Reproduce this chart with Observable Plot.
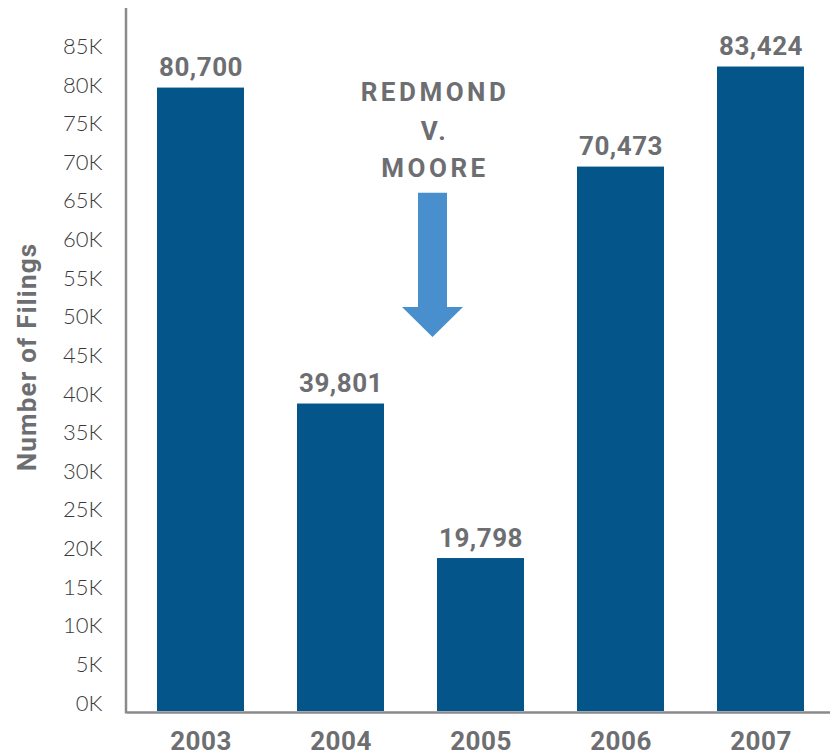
<!DOCTYPE html>
<html>
<head>
<meta charset="utf-8">
<script src="https://cdn.jsdelivr.net/npm/d3@7"></script>
<script src="https://cdn.jsdelivr.net/npm/@observablehq/plot@0.6"></script>
<style>
  html, body { margin: 0; padding: 0; background: #fff; }
</style>
</head>
<body>
<div id="chart"></div>
<script>
// ---- data ----
const years = ["2003", "2004", "2005", "2006", "2007"];
const filings = [80700, 39801, 19798, 70473, 83424];
const yTickValues = [0, 5000, 10000, 15000, 20000, 25000, 30000, 35000, 40000, 45000, 50000, 55000, 60000, 65000, 70000, 75000, 80000, 85000];
const yTickLabels = ["0K", "5K", "10K", "15K", "20K", "25K", "30K", "35K", "40K", "45K", "50K", "55K", "60K", "65K", "70K", "75K", "80K", "85K"];
const yAxisTitle = "Number of Filings";
const annotationLines = ["REDMOND", "V.", "MOORE"];
const annotationY = [78900, 73900, 69100];
const arrowShaftTop = 67100;
const arrowHeadBase = 52300;
const arrowTip = 48400;
const annotationYear = "2005";

const data = years.map((year, i) => ({year, filings: filings[i]}));
const annotation = annotationLines.map((line, i) => ({line, y: annotationY[i]}));
const tickLabel = new Map(yTickValues.map((v, i) => [v, yTickLabels[i]]));
const valueLabels = filings.map(d => d3.format(",")(d));

const gray = "#6d6e71";
const barColor = "#03558a";
const arrowColor = "#4a8fcd";
const axisColor = "#8a8a8c";
const boldFont = "Roboto, 'Noto Sans', sans-serif";

function bandCenter(x, v) {
  const bw = typeof x.bandwidth === "function" ? x.bandwidth() : (x.bandwidth || 0);
  return x(v) + bw / 2;
}

// vertical axis line
function axisLine(index, scales, values, dimensions) {
  const g = d3.create("svg:g");
  const x = dimensions.marginLeft - 1;
  g.append("line")
    .attr("x1", x).attr("x2", x)
    .attr("y1", dimensions.marginTop)
    .attr("y2", dimensions.height - dimensions.marginBottom + 2.5)
    .attr("stroke", axisColor)
    .attr("stroke-width", 2.5);
  return g.node();
}

// annotation arrow
function arrowMark(index, scales, values, dimensions) {
  const cx = bandCenter(scales.x, annotationYear) - 48;
  const yTop = scales.y(arrowShaftTop);
  const yBase = scales.y(arrowHeadBase);
  const yTip = scales.y(arrowTip);
  const sw = 14.5, hw = 30.5;
  const g = d3.create("svg:g");
  g.append("path")
    .attr("d", `M${cx - sw},${yTop}L${cx + sw},${yTop}L${cx + sw},${yBase}L${cx + hw},${yBase}L${cx},${yTip}L${cx - hw},${yBase}L${cx - sw},${yBase}Z`)
    .attr("fill", arrowColor);
  return g.node();
}

const chart = Plot.plot({
  width: 830,
  height: 756,
  marginLeft: 127,
  marginRight: 0,
  marginTop: 8,
  marginBottom: 45,
  style: {fontFamily: boldFont, background: "#fff"},
  x: {domain: years, range: [129, 832], paddingInner: 0.379, paddingOuter: 0.2, label: null},
  y: {domain: [0, 91000], label: null},
  marks: [
    Plot.barY(data, {x: "year", y: "filings", fill: barColor}),
    Plot.ruleY([0], {stroke: axisColor, strokeWidth: 2.5, dy: 1}),
    axisLine,
    Plot.axisY({
      ticks: yTickValues,
      tickFormat: d => tickLabel.get(d),
      tickSize: 0,
      tickPadding: 25,
      fontSize: 22,
      fontFamily: "Lato, Roboto, sans-serif",
      fontWeight: 300,
      color: "#3a3a3a",
      dy: -8,
      label: null
    }),
    Plot.axisX({
      tickSize: 0,
      tickPadding: 20,
      fontSize: 26,
      fontWeight: "bold",
      fontFamily: boldFont,
      color: gray,
      label: null
    }),
    Plot.text(data, {
      x: "year",
      y: "filings",
      text: (d, i) => valueLabels[i],
      dy: -20,
      fontSize: 26,
      fontWeight: "bold",
      fontFamily: boldFont,
      fill: gray
    }),
    Plot.text(annotation, {
      x: () => annotationYear,
      y: "y",
      text: "line",
      dx: -46,
      dy: -9,
      fontSize: 26,
      fontWeight: "bold",
      fontFamily: boldFont,
      fill: gray
    }),
    arrowMark,
    Plot.text([yAxisTitle], {
      text: d => d,
      frameAnchor: "left",
      textAnchor: "middle",
      rotate: -90,
      dx: -100,
      dy: -3,
      fontSize: 26,
      fontWeight: "bold",
      fontFamily: boldFont,
      fill: gray
    })
  ]
});

// letter spacing tweaks (DIN-like wider set)
d3.select(chart).selectAll("text").each(function () {
  const t = this.textContent;
  if (annotationLines.includes(t)) d3.select(this).attr("letter-spacing", "3.5px");
  else if (t === yAxisTitle) d3.select(this).attr("letter-spacing", "1.2px");
  else if (valueLabels.includes(t) || years.includes(t)) d3.select(this).attr("letter-spacing", "0.5px");
});

document.getElementById("chart").appendChild(chart);
</script>
</body>
</html>
